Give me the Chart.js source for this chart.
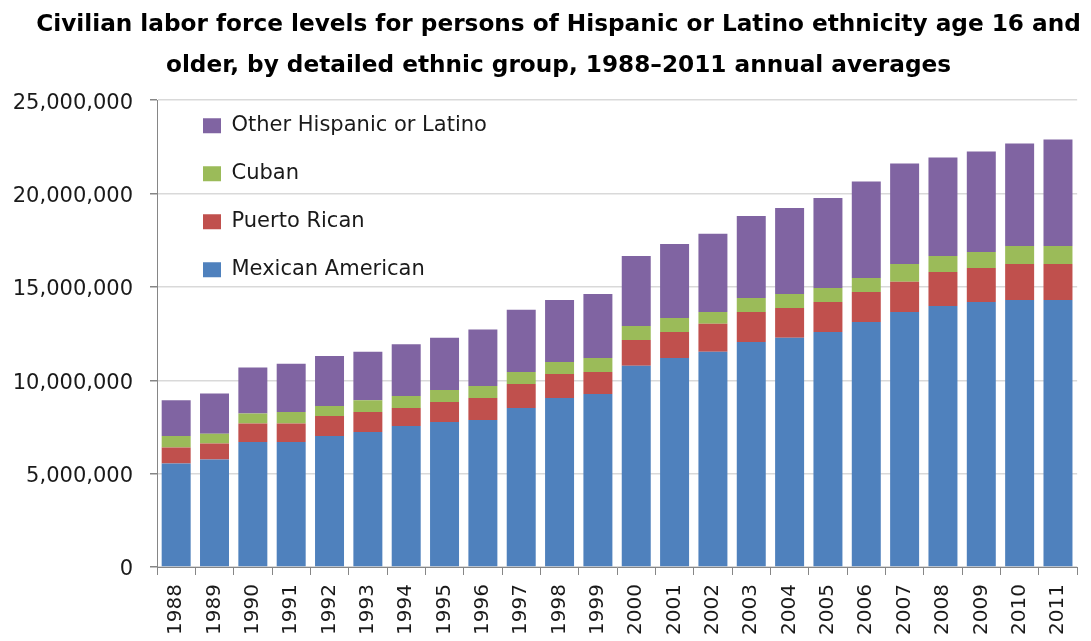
<!DOCTYPE html>
<html>
<head>
<meta charset="utf-8">
<title>Hispanic labor force by ethnic group</title>
<script src="https://cdn.jsdelivr.net/npm/chart.js@4.4.1/dist/chart.umd.min.js"></script>
<style>
  html, body { margin: 0; padding: 0; background: #fff; }
  #wrap { width: 1091px; height: 641px; }
</style>
</head>
<body>
<div id="wrap"><canvas id="labor-chart" width="1091" height="641"></canvas></div>
<script>
// Annual averages, persons 16+
const years = ['1988', '1989', '1990', '1991', '1992', '1993', '1994', '1995', '1996', '1997', '1998', '1999',
  '2000', '2001', '2002', '2003', '2004', '2005', '2006', '2007', '2008', '2009', '2010', '2011'];

const mexicanAmerican = [5540000, 5750000, 6700000, 6700000, 7020000, 7230000, 7550000, 7770000, 7870000, 8520000, 9050000, 9270000,
  10770000, 11190000, 11520000, 12050000, 12270000, 12590000, 13120000, 13660000, 13980000, 14190000, 14300000, 14300000];
const puertoRican = [860000, 860000, 980000, 980000, 1070000, 1070000, 970000, 1070000, 1180000, 1280000, 1290000, 1170000,
  1390000, 1400000, 1500000, 1610000, 1600000, 1600000, 1610000, 1610000, 1820000, 1820000, 1930000, 1930000];
const cuban = [620000, 530000, 540000, 620000, 530000, 630000, 640000, 640000, 640000, 640000, 640000, 750000,
  750000, 750000, 640000, 750000, 750000, 750000, 750000, 960000, 860000, 860000, 960000, 960000];
const otherHispanic = [1910000, 2150000, 2460000, 2590000, 2680000, 2590000, 2770000, 2790000, 3030000, 3330000, 3320000, 3430000,
  3750000, 3960000, 4180000, 4390000, 4610000, 4820000, 5160000, 5380000, 5270000, 5380000, 5490000, 5700000];

const yTicks = [0, 5000000, 10000000, 15000000, 20000000, 25000000];

const titleLines = [
  'Civilian labor force levels for persons of Hispanic or Latino ethnicity age 16 and',
  'older, by detailed ethnic group, 1988\u20132011 annual averages'
];

const axisGray = '#868686';

// Legend sits inside the plot area, nudged to where Excel put it;
// title is centred a little right of the canvas middle
const layoutNudge = {
  id: 'layoutNudge',
  afterLayout(chart) {
    const lg = chart.legend;
    const ca = chart.chartArea;
    if (lg) {
      lg.left = ca.left + 19;
      lg.top = ca.top - 12;
      lg.right = lg.left + lg.width;
      lg.bottom = lg.top + lg.height;
    }
    if (chart.titleBlock) {
      chart.titleBlock.left = 27;
    }
  }
};

function makeSet(label, data, color) {
  return {
    label: label,
    data: data,
    backgroundColor: color,
    borderWidth: 0,
    barPercentage: 0.756,
    categoryPercentage: 1.0
  };
}

const ctx = document.getElementById('labor-chart').getContext('2d');
const chart = new Chart(ctx, {
  type: 'bar',
  data: {
    labels: years,
    datasets: [
      makeSet('Mexican American', mexicanAmerican, '#4F81BD'),
      makeSet('Puerto Rican', puertoRican, '#C0504D'),
      makeSet('Cuban', cuban, '#9BBB59'),
      makeSet('Other Hispanic or Latino', otherHispanic, '#8064A2')
    ]
  },
  options: {
    responsive: false,
    animation: false,
    layout: {
      padding: { left: 0, right: 1, top: 0, bottom: 0 }
    },
    plugins: {
      title: {
        display: true,
        text: titleLines,
        color: '#000',
        font: { family: 'DejaVu Sans', weight: 'bold', size: 23.2, lineHeight: 1.77 },
        padding: { top: 4, bottom: 14 }
      },
      legend: {
        position: 'chartArea',
        align: 'start',
        reverse: true,
        labels: {
          color: '#1a1a1a',
          font: { family: 'DejaVu Sans', size: 21 },
          boxWidth: 18,
          boxHeight: 15,
          padding: 27
        }
      },
      tooltip: { enabled: false }
    },
    scales: {
      x: {
        stacked: true,
        afterFit: (scale) => { scale.height = 74; },
        border: { color: axisGray, width: 1 },
        grid: {
          offset: true,
          drawOnChartArea: false,
          drawTicks: true,
          tickLength: 8,
          tickColor: axisGray
        },
        ticks: {
          autoSkip: false,
          maxRotation: 90,
          minRotation: 90,
          padding: 9,
          color: '#1a1a1a',
          font: { family: 'DejaVu Sans', size: 20 }
        }
      },
      y: {
        stacked: true,
        min: 0,
        max: 25000000,
        afterFit: (scale) => { scale.width = 157; },
        afterBuildTicks: (scale) => {
          scale.ticks = yTicks.map(v => ({ value: v }));
        },
        border: { color: axisGray, width: 1 },
        grid: {
          color: '#d9d9d9',
          lineWidth: 1.5,
          drawTicks: true,
          tickLength: 7,
          tickColor: axisGray
        },
        ticks: {
          padding: 17,
          labelOffset: 3,
          color: '#1a1a1a',
          font: { family: 'DejaVu Sans', size: 21 },
          callback: (value) => value.toLocaleString('en-US')
        }
      }
    }
  },
  plugins: [layoutNudge]
});
</script>
</body>
</html>
